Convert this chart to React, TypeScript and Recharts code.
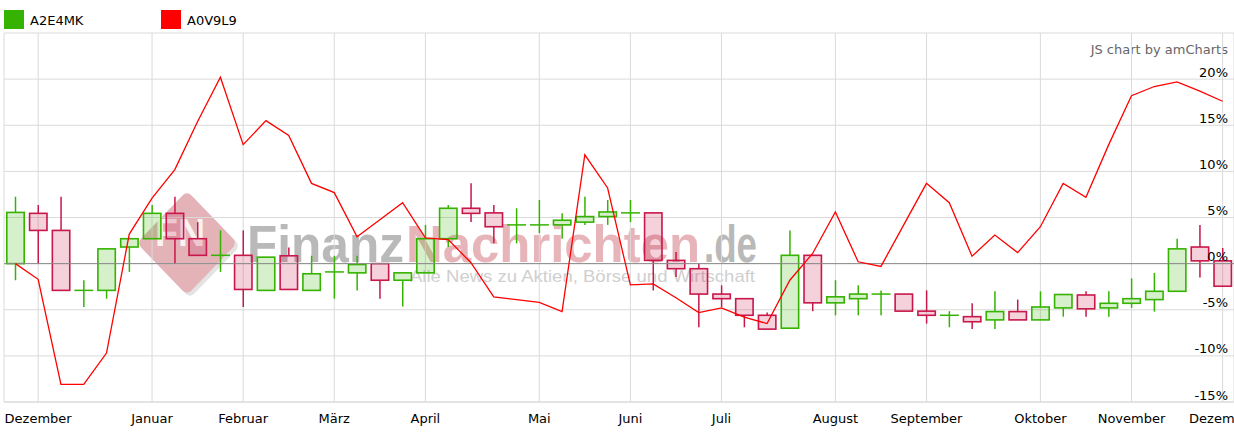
import React from 'react';
import { ComposedChart, Bar, Line, XAxis, YAxis, CartesianGrid, ReferenceLine } from 'recharts';

// Weekly candles for A2E4MK (values in %)
const opens = [0, 5.45, 3.6, -2.9, -2.9, 1.8, 2.7, 5.45, 2.7, 0.9, 0.9, -2.9, 0.85, -2.9, -0.9, -1.0, 0, -1.8, -1.0, 2.7, 6.0, 5.5, 4.2, 4.2, 4.2, 4.5, 5.1, 5.5, 5.5, 0.35, -0.55, -3.3, -3.8, -5.6, -7.0, 0.9, -4.25, -3.8, -3.3, -3.3, -5.15, -5.6, -5.75, -6.1, -5.2, -6.1, -4.8, -3.4, -4.8, -4.3, -3.9, -3.0, 1.8, 0.3];
const highs = [7.25, 6.35, 7.25, -1.8, 1.6, 2.7, 6.35, 7.25, 4.5, 3.6, 3.6, 0.7, 1.75, 0.85, 0.85, 0.85, 0, -1.0, 4.2, 6.35, 8.7, 6.35, 6.0, 6.9, 5.45, 7.25, 6.9, 6.9, 5.5, 1.25, 0, -2.35, -3.8, -5.3, 3.6, 0.9, -1.8, -2.35, -2.9, -3.3, -2.9, -5.15, -4.3, -3.0, -3.9, -3.0, -3.35, -3.0, -3.0, -1.6, -1.0, 2.7, 4.2, 1.7];
const lows = [-1.8, 0, -2.9, -4.7, -3.8, -0.9, 2.7, 0, 0.9, -0.9, -4.7, -2.9, -2.8, -2.9, -3.8, -2.9, -3.8, -4.65, -1.0, 1.8, 4.5, 2.2, 2.2, 3.3, 2.7, 4.2, 4.2, 4.5, -2.9, -1.45, -6.9, -4.7, -6.9, -7.1, -7.0, -5.15, -5.6, -5.6, -5.6, -5.15, -6.5, -6.9, -7.1, -7.1, -6.1, -6.1, -5.75, -5.75, -5.75, -4.8, -5.2, -3.0, -1.5, -2.45];
const closes = [5.55, 3.6, -2.9, -2.9, 1.6, 2.7, 5.45, 2.7, 0.9, 0.9, -2.8, 0.7, -2.8, -1.1, -0.9, -0.1, -1.8, -1.0, 2.7, 6.0, 5.45, 4.0, 4.2, 4.2, 4.7, 5.1, 5.6, 5.5, 0.35, -0.55, -3.3, -3.8, -5.6, -7.1, 0.9, -4.25, -3.6, -3.3, -3.3, -5.15, -5.6, -5.6, -6.3, -5.2, -6.1, -4.7, -3.35, -4.9, -4.3, -3.8, -3.0, 1.6, 0.3, -2.45];

// Line series A0V9L9 (values in %)
const a0v9l9 = [0, -1.7, -13.1, -13.1, -9.7, 3.2, 7.1, 10.2, 15.4, 20.2, 12.9, 15.5, 13.9, 8.7, 7.7, 2.9, 4.75, 6.6, 2.8, 2.6, 0.1, -3.6, -3.9, -4.2, -5.2, 11.8, 8.2, -2.3, -2.2, -3.7, -5.3, -4.8, -5.8, -6.5, -1.8, 1.1, 5.6, 0.2, -0.3, 4.2, 8.7, 6.6, 0.8, 3.1, 1.2, 4.0, 8.7, 7.2, 12.9, 18.2, 19.2, 19.7, 18.7, 17.6];

const monthTickIndex = [1, 6, 10, 14, 18, 23, 27, 31, 36, 40, 45, 49, 53];
const monthLabels = ['Dezember', 'Januar', 'Februar', 'März', 'April', 'Mai', 'Juni', 'Juli', 'August', 'September', 'Oktober', 'November', 'Dezember'];
const percentTicks = [-15, -10, -5, 0, 5, 10, 15, 20, 25];
const seriesNames = ['A2E4MK', 'A0V9L9'];

const data = opens.map((o, i) => ({
  idx: i,
  open: o,
  high: highs[i],
  low: lows[i],
  close: closes[i],
  range: [lows[i], highs[i]],
  line: a0v9l9[i],
}));

const GREEN = '#35b300';
const RED = '#c8174a';
const FONT = '"DejaVu Sans", Verdana, sans-serif';

function Candle(props: any) {
  const { x, y, width, height, payload } = props;
  if (x == null || y == null || !payload) return <g />;
  const { open, close, high, low } = payload;
  const up = close >= open;
  const color = up ? GREEN : RED;
  const top = Math.min(y, y + height);
  const h = Math.abs(height);
  const span = high - low;
  const k = span > 0 ? h / span : 0;
  const py = (v: number) => top + (high - v) * k;
  const bodyTop = py(Math.max(open, close));
  const bodyBot = py(Math.min(open, close));
  const cx = x + width / 2;
  const doji = bodyBot - bodyTop < 1;
  return (
    <g>
      {bodyTop > top + 0.5 && (
        <line x1={cx} x2={cx} y1={top} y2={bodyTop} stroke={color} strokeWidth={1.5} />
      )}
      {bodyBot < top + h - 0.5 && (
        <line x1={cx} x2={cx} y1={bodyBot} y2={top + h} stroke={color} strokeWidth={1.5} />
      )}
      {doji ? (
        <line x1={x} x2={x + width} y1={bodyTop} y2={bodyTop} stroke={color} strokeWidth={1.5} />
      ) : (
        <rect
          x={x + 0.8}
          y={bodyTop}
          width={width - 1.6}
          height={bodyBot - bodyTop}
          fill={color}
          fillOpacity={0.2}
          stroke={color}
          strokeWidth={1.6}
        />
      )}
    </g>
  );
}

function XTick(props: any) {
  const { x, y, payload } = props;
  const i = monthTickIndex.indexOf(payload.value);
  return (
    <text x={x} y={y + 13} textAnchor="middle" fontSize={13} fontFamily={FONT} fill="#000">
      {i >= 0 ? monthLabels[i] : ''}
    </text>
  );
}

function YTick(props: any) {
  const { y, payload } = props;
  if (payload.value === 25) return <g />;
  return (
    <text x={1228} y={y - 2.5} textAnchor="end" fontSize={13} fontFamily={FONT} fill="#000">
      {payload.value}%
    </text>
  );
}

function Backdrop() {
  return (
    <svg width={1234} height={433} style={{ position: 'absolute', left: 0, top: 0 }}>
      {/* watermark */}
      <g>
        <rect
          x={-35.5}
          y={-35.5}
          width={71}
          height={71}
          rx={6}
          transform="translate(190 246) scale(1 1.04) rotate(45)"
          fill="#c8c8c8"
          opacity={0.5}
        />
        <rect
          x={-35.5}
          y={-35.5}
          width={71}
          height={71}
          rx={6}
          transform="translate(187 243) scale(1 1.04) rotate(45)"
          fill="#e3b3b8"
        />
        <text x={155} y={246} fontSize={39} fontWeight="bold" fontFamily="Liberation Sans, Arial, sans-serif" fill="#fff" fillOpacity={0.85} textLength={50} lengthAdjust="spacingAndGlyphs">
          FN
        </text>
        <text x={247} y={262} fontSize={52} fontWeight="bold" fontFamily="Liberation Sans, Arial, sans-serif" fill="#b9b9b9" textLength={157} lengthAdjust="spacingAndGlyphs">
          Finanz
        </text>
        <text x={406} y={262} fontSize={52} fontWeight="bold" fontFamily="Liberation Sans, Arial, sans-serif" fill="#e6b4b9" textLength={294} lengthAdjust="spacingAndGlyphs">
          Nachrichten
        </text>
        <text x={704} y={262} fontSize={52} fontWeight="bold" fontFamily="Liberation Sans, Arial, sans-serif" fill="#b9b9b9" textLength={53} lengthAdjust="spacingAndGlyphs">
          .de
        </text>
        <text x={410} y={282} fontSize={17} fontFamily="Liberation Sans, Arial, sans-serif" fill="#cfcfcf" textLength={345} lengthAdjust="spacingAndGlyphs">
          Alle News zu Aktien, Börse und Wirtschaft
        </text>
      </g>
      {/* legend */}
      <rect x={4} y={10} width={20} height={19} fill={GREEN} />
      <text x={30} y={25} fontSize={13} fontFamily={FONT} fill="#000">{seriesNames[0]}</text>
      <rect x={161} y={10} width={20} height={19} fill="#ff0000" />
      <text x={187} y={25} fontSize={13} fontFamily={FONT} fill="#000">{seriesNames[1]}</text>
      <text x={1228} y={54} textAnchor="end" fontSize={13} fontFamily={FONT} fill="#666">JS chart by amCharts</text>
    </svg>
  );
}

export default function App() {
  return (
    <div style={{ position: 'absolute', left: 0, top: 0, width: 1234, height: 433, overflow: 'hidden', background: '#fff' }}>
      <Backdrop />
      <div style={{ position: 'absolute', left: 0, top: 0 }}>
        <ComposedChart width={1234} height={433} data={data} margin={{ top: 33, right: 0, bottom: 0, left: 4 }}>
          <CartesianGrid stroke="#dadada" strokeWidth={1} />
          <XAxis
            dataKey="idx"
            type="number"
            domain={[-0.5, 53.5]}
            allowDataOverflow
            ticks={monthTickIndex}
            interval={0}
            tick={<XTick />}
            tickLine={false}
            axisLine={{ stroke: '#dadada' }}
            height={31}
          />
          <YAxis
            orientation="right"
            mirror
            type="number"
            domain={[-15, 25]}
            allowDataOverflow
            ticks={percentTicks}
            interval={0}
            tick={<YTick />}
            tickLine={false}
            axisLine={false}
          />
          <ReferenceLine y={0} stroke="#8a8a8a" strokeWidth={1} />
          <Bar dataKey="range" barSize={19} shape={(p: any) => <Candle {...p} />} isAnimationActive={false} />
          <Line
            type="linear"
            dataKey="line"
            stroke="#ff0000"
            strokeWidth={1.3}
            dot={false}
            activeDot={false}
            isAnimationActive={false}
          />
        </ComposedChart>
      </div>
    </div>
  );
}
